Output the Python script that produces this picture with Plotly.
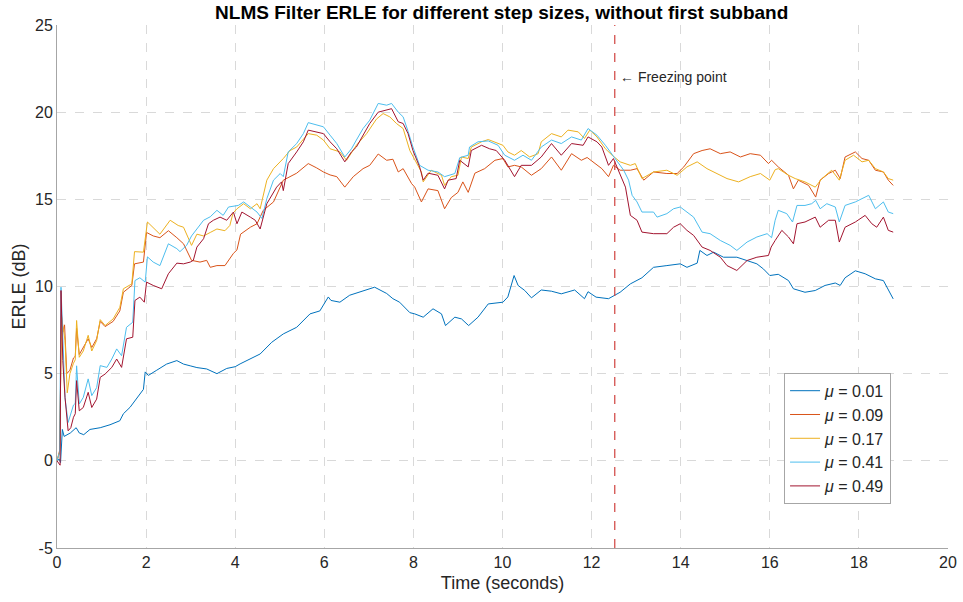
import plotly.graph_objects as go

# ---------------- data ----------------
t_001 = [0, 0.05, 0.08, 0.12, 0.16, 0.22, 0.3, 0.43, 0.5, 0.6, 0.74, 0.97, 1.19, 1.41, 1.49, 1.64, 1.75, 1.86, 1.94, 1.98,
         2.05, 2.24, 2.46, 2.69, 2.84, 2.99, 3.14, 3.36, 3.59, 3.81, 4.0, 4.11, 4.34, 4.56, 4.82, 5.08, 5.38, 5.68, 5.9, 6.09,
         6.15, 6.35, 6.57, 6.87, 7.13, 7.4, 7.54, 7.69, 7.92, 8.03, 8.22, 8.44, 8.63, 8.72, 8.93, 9.08, 9.24, 9.45, 9.68, 10.01,
         10.12, 10.26, 10.35, 10.5, 10.65, 10.87, 11.1, 11.32, 11.62, 11.84, 11.92, 12.1, 12.38, 12.64, 12.87, 13.13, 13.39, 13.69, 13.99, 14.14,
         14.37, 14.43, 14.59, 14.74, 14.96, 15.26, 15.49, 15.71, 15.86, 16.0, 16.19, 16.42, 16.53, 16.79, 17.02, 17.24, 17.47, 17.58, 17.69, 17.92,
         18.14, 18.37, 18.55, 18.66, 18.77]
v_001 = [0, 0.1, -0.1, 1.8, 1.4, 1.5, 1.6, 1.9, 1.6, 1.5, 1.8, 1.9, 2.07, 2.3, 2.7, 3.07, 3.45, 3.8, 4.1, 5.1,
         4.9, 5.2, 5.55, 5.75, 5.55, 5.45, 5.35, 5.27, 5.0, 5.3, 5.4, 5.56, 5.84, 6.13, 6.8, 7.28, 7.66, 8.43, 8.6, 9.4,
         9.2, 9.1, 9.5, 9.77, 9.96, 9.6, 9.3, 9.1, 8.5, 8.43, 8.24, 8.72, 8.43, 7.76, 8.24, 8.14, 7.76, 8.24, 9.0, 9.1,
         9.4, 10.63, 10.06, 9.77, 9.35, 9.8, 9.73, 9.58, 9.8, 9.3, 9.7, 9.39, 9.3, 9.67, 10.15, 10.5, 11.1, 11.2, 11.3, 11.1,
         11.34, 12.07, 11.78, 11.97, 11.68, 11.68, 11.49, 11.3, 11.0, 10.63, 10.7, 10.34, 9.87, 9.67, 9.77, 10.06, 10.2, 10.06, 10.5, 10.9,
         10.73, 10.44, 10.34, 9.77, 9.29]

t_009 = [0, 0.06, 0.1, 0.13, 0.17, 0.22, 0.29, 0.37, 0.41, 0.44, 0.5, 0.59, 0.7, 0.78, 0.89, 0.97, 1.08, 1.26, 1.41, 1.49,
         1.68, 1.74, 1.94, 2.01, 2.16, 2.31, 2.5, 2.69, 2.84, 3.02, 3.21, 3.36, 3.44, 3.59, 3.77, 3.96, 4.04, 4.12, 4.34, 4.49,
         4.63, 4.86, 5.08, 5.38, 5.64, 5.83, 5.98, 6.13, 6.28, 6.46, 6.65, 6.87, 7.02, 7.21, 7.4, 7.54, 7.66, 7.77, 7.96, 8.03,
         8.18, 8.33, 8.55, 8.7, 8.85, 9.0, 9.11, 9.23, 9.38, 9.6, 9.83, 10.01, 10.12, 10.27, 10.42, 10.65, 10.87, 11.1, 11.32, 11.55,
         11.77, 11.9, 12.04, 12.23, 12.38, 12.49, 12.64, 12.87, 13.02, 13.17, 13.39, 13.69, 13.92, 14.07, 14.29, 14.48, 14.66, 14.89, 15.11, 15.34,
         15.56, 15.79, 15.97, 16.04, 16.19, 16.42, 16.53, 16.64, 16.87, 17.03, 17.13, 17.32, 17.47, 17.58, 17.69, 17.92, 18.07, 18.22, 18.37, 18.55,
         18.66, 18.77]
v_009 = [0, 0.6, 8.4, 7.4, 7.8, 5.0, 5.2, 5.9, 6.0, 7.6, 6.1, 6.5, 7.0, 6.5, 7.0, 8.0, 7.7, 8.0, 8.6, 9.67,
         10.06, 11.3, 11.4, 13.1, 12.9, 12.8, 13.2, 12.8, 12.45, 11.5, 11.4, 11.5, 11.1, 11.2, 11.2, 11.9, 12.1, 13.0, 13.4, 13.6,
         14.37, 14.85, 16.1, 16.5, 17.05, 16.8, 16.57, 16.4, 16.3, 15.7, 16.3, 16.76, 16.95, 17.6, 17.24, 17.3, 16.57, 16.76, 15.9, 15.7,
         14.85, 15.6, 15.5, 14.46, 15.1, 15.4, 16.0, 15.4, 16.5, 16.76, 17.24, 17.34, 16.86, 16.95, 16.86, 16.38, 16.76, 17.43, 16.67, 17.62,
         17.24, 17.4, 17.15, 16.76, 16.3, 16.95, 16.67, 16.67, 16.76, 16.1, 16.57, 16.48, 16.48, 16.86, 17.62, 17.8, 17.9, 17.62, 17.72, 17.43,
         17.62, 17.53, 17.05, 17.24, 16.86, 16.38, 15.6, 16.1, 15.8, 15.13, 16.1, 16.48, 16.67, 16.19, 17.43, 17.72, 17.34, 17.24, 16.67, 16.57,
         16.1, 15.8]

t_017 = [0, 0.06, 0.1, 0.15, 0.18, 0.23, 0.29, 0.37, 0.41, 0.44, 0.5, 0.59, 0.7, 0.78, 0.89, 0.97, 1.08, 1.26, 1.41, 1.49,
         1.68, 1.74, 1.94, 2.03, 2.16, 2.31, 2.54, 2.72, 2.84, 3.02, 3.14, 3.29, 3.44, 3.59, 3.77, 3.88, 3.95, 4.04, 4.19, 4.34,
         4.49, 4.56, 4.71, 4.86, 5.08, 5.23, 5.38, 5.64, 5.83, 5.98, 6.13, 6.35, 6.5, 6.72, 6.95, 7.17, 7.32, 7.47, 7.62, 7.77,
         7.92, 8.03, 8.18, 8.22, 8.4, 8.63, 8.7, 8.85, 9.0, 9.08, 9.23, 9.3, 9.53, 9.68, 9.83, 10.01, 10.12, 10.27, 10.42, 10.61,
         10.8, 10.87, 11.1, 11.32, 11.47, 11.7, 11.84, 11.96, 12.12, 12.31, 12.46, 12.64, 12.87, 12.98, 13.13, 13.39, 13.69, 13.92, 14.14, 14.37,
         14.59, 14.81, 15.04, 15.3, 15.56, 15.79, 16.0, 16.12, 16.19, 16.42, 16.57, 16.79, 17.02, 17.17, 17.39, 17.56, 17.69, 17.88, 18.07, 18.22,
         18.37, 18.55, 18.66, 18.77]
v_017 = [0, 0.5, 8.3, 7.5, 6.9, 3.9, 5.0, 5.6, 5.8, 8.05, 5.94, 6.3, 7.2, 6.3, 6.9, 8.1, 7.76, 8.14, 8.8, 9.87,
         10.15, 12.0, 11.97, 13.7, 13.4, 13.0, 13.8, 13.5, 13.4, 12.36, 13.0, 12.9, 13.1, 13.3, 13.2, 13.5, 14.2, 14.46, 14.75, 14.46,
         14.75, 14.46, 16.1, 16.76, 17.34, 17.8, 18.0, 18.77, 18.68, 18.4, 17.9, 17.72, 17.24, 18.1, 18.77, 19.6, 19.92, 19.73, 19.35, 19.06,
         17.8, 17.24, 16.57, 16.0, 16.67, 16.38, 15.8, 16.3, 16.38, 17.43, 17.34, 18.0, 18.3, 18.43, 18.3, 18.1, 17.72, 17.53, 17.8, 17.43,
         17.62, 18.3, 18.77, 18.58, 18.97, 18.87, 18.49, 18.97, 18.58, 17.9, 17.53, 17.15, 16.95, 17.05, 16.19, 16.57, 16.67, 16.38, 16.86, 17.15,
         16.76, 16.48, 16.19, 16.0, 16.3, 16.48, 16.1, 16.7, 16.76, 16.38, 16.19, 16.0, 15.7, 16.19, 16.67, 16.1, 17.24, 17.53, 17.15, 17.24,
         16.76, 16.57, 16.19, 16.1]

t_041 = [0, 0.06, 0.09, 0.13, 0.18, 0.25, 0.37, 0.41, 0.44, 0.5, 0.59, 0.7, 0.78, 0.89, 0.97, 1.12, 1.23, 1.34, 1.45, 1.56,
         1.7, 1.75, 1.86, 1.98, 2.03, 2.16, 2.31, 2.5, 2.69, 2.76, 2.91, 3.02, 3.14, 3.29, 3.44, 3.59, 3.73, 3.85, 4.07, 4.19,
         4.34, 4.49, 4.6, 4.71, 4.86, 5.01, 5.08, 5.19, 5.38, 5.53, 5.64, 5.83, 5.98, 6.13, 6.28, 6.46, 6.61, 6.72, 6.87, 7.02,
         7.21, 7.4, 7.51, 7.66, 7.77, 7.88, 7.99, 8.14, 8.33, 8.55, 8.7, 8.93, 9.04, 9.23, 9.26, 9.45, 9.68, 9.9, 10.05, 10.27,
         10.46, 10.65, 10.87, 11.1, 11.32, 11.55, 11.77, 11.92, 12.12, 12.31, 12.42, 12.57, 12.72, 12.83, 12.91, 13.02, 13.13, 13.39, 13.47, 13.69,
         13.84, 13.99, 14.14, 14.29, 14.48, 14.66, 14.89, 15.11, 15.26, 15.49, 15.71, 15.94, 16.04, 16.12, 16.19, 16.38, 16.51, 16.61, 16.79, 16.94,
         17.03, 17.13, 17.28, 17.47, 17.56, 17.69, 17.92, 18.07, 18.22, 18.37, 18.55, 18.66, 18.77]
v_041 = [0, 0.5, 9.96, 6.9, 3.6, 2.2, 3.2, 3.3, 5.45, 3.26, 3.64, 4.7, 3.74, 4.2, 5.46, 5.36, 5.84, 6.42, 6.03, 7.66,
         7.95, 10.34, 10.5, 10.25, 11.7, 11.4, 11.2, 12.45, 12.17, 12.0, 12.36, 12.9, 13.3, 13.8, 14.0, 14.37, 14.08, 14.56, 14.65, 14.85,
         14.56, 14.27, 13.9, 15.04, 16.1, 16.48, 16.3, 17.72, 18.2, 18.77, 19.4, 19.25, 19.16, 18.68, 18.2, 17.43, 17.9, 18.4, 19.06, 19.54,
         20.5, 20.4, 20.5, 20.0, 19.73, 18.9, 18.0, 16.95, 16.67, 16.57, 16.3, 16.48, 17.39, 17.53, 18.0, 18.3, 18.35, 18.1, 17.53, 17.24,
         17.53, 17.24, 18.0, 18.4, 18.2, 18.58, 18.4, 19.06, 18.68, 18.1, 17.72, 17.24, 16.67, 16.1, 15.23, 14.85, 14.27, 14.27, 13.98, 14.18,
         14.46, 14.56, 14.27, 13.98, 13.12, 13.03, 12.64, 12.36, 12.07, 12.55, 12.84, 13.03, 12.8, 13.8, 14.37, 14.18, 13.7, 14.65, 14.65, 14.75,
         14.94, 14.46, 14.75, 14.56, 13.7, 14.65, 14.85, 15.04, 15.23, 14.46, 14.85, 14.27, 14.18]

t_049 = [0, 0.07, 0.09, 0.13, 0.18, 0.25, 0.31, 0.37, 0.41, 0.44, 0.5, 0.59, 0.7, 0.78, 0.89, 0.97, 1.08, 1.23, 1.34, 1.45,
         1.56, 1.7, 1.75, 1.86, 1.96, 2.01, 2.16, 2.35, 2.5, 2.69, 2.84, 2.99, 3.06, 3.14, 3.29, 3.4, 3.51, 3.66, 3.81, 3.96,
         4.04, 4.15, 4.34, 4.45, 4.56, 4.71, 4.93, 5.04, 5.08, 5.19, 5.38, 5.53, 5.64, 5.83, 5.98, 6.13, 6.28, 6.46, 6.61, 6.72,
         6.87, 7.02, 7.21, 7.4, 7.51, 7.66, 7.77, 7.88, 7.99, 8.14, 8.22, 8.33, 8.55, 8.7, 8.78, 8.96, 9.04, 9.23, 9.3, 9.53,
         9.71, 9.86, 10.05, 10.27, 10.42, 10.65, 10.87, 11.1, 11.32, 11.55, 11.81, 11.92, 12.12, 12.23, 12.38, 12.49, 12.64, 12.76, 12.87, 13.02,
         13.13, 13.39, 13.69, 13.84, 13.99, 14.14, 14.29, 14.48, 14.66, 14.89, 15.04, 15.26, 15.49, 15.71, 15.97, 16.03, 16.12, 16.27, 16.42, 16.53,
         16.61, 16.79, 17.02, 17.13, 17.32, 17.47, 17.56, 17.69, 17.92, 18.14, 18.29, 18.4, 18.55, 18.66, 18.77]
v_049 = [0, -0.25, 9.77, 5.75, 3.64, 1.72, 1.9, 2.5, 2.7, 4.6, 2.87, 3.06, 3.93, 3.06, 3.54, 4.79, 4.98, 5.36, 5.84, 5.36,
         7.0, 7.09, 9.2, 9.39, 9.1, 10.25, 10.06, 9.87, 10.73, 11.34, 11.3, 11.4, 11.5, 12.26, 12.74, 13.6, 13.8, 13.98, 13.8, 14.27,
         13.6, 14.27, 13.98, 13.8, 13.3, 14.75, 15.7, 16.0, 15.5, 17.05, 17.72, 18.3, 18.97, 18.87, 18.77, 18.3, 17.9, 17.15, 17.72, 18.0,
         18.68, 19.35, 20.0, 20.1, 20.2, 19.45, 19.35, 18.77, 17.8, 16.86, 16.1, 16.5, 16.38, 15.6, 16.1, 16.19, 17.24, 16.86, 17.8, 18.1,
         17.9, 17.8, 17.24, 16.3, 16.95, 16.95, 17.43, 18.2, 17.53, 18.2, 18.1, 18.58, 18.3, 18.0, 16.95, 17.34, 16.48, 15.7, 14.08, 13.8,
         13.12, 13.03, 13.03, 13.4, 13.6, 13.22, 12.93, 12.26, 12.07, 11.68, 11.2, 10.92, 11.49, 11.68, 11.78, 12.26, 12.64, 13.22, 12.84, 12.45,
         13.6, 13.7, 13.98, 13.4, 13.8, 13.8, 12.55, 13.4, 13.7, 14.08, 13.6, 13.4, 13.98, 13.22, 13.12]

series_labels = ["0.01", "0.09", "0.17", "0.41", "0.49"]
series_t = [t_001, t_009, t_017, t_041, t_049]
series_v = [v_001, v_009, v_017, v_041, v_049]
series_colors = ["#0072BD", "#D95319", "#EDB120", "#4DBEEE", "#A2142F"]

freeze_time = 12.52
x_ticks = [0, 2, 4, 6, 8, 10, 12, 14, 16, 18, 20]
y_ticks = [-5, 0, 5, 10, 15, 20, 25]
y_tick_text = ["-5", "0", "5", "10", "15", "20", "25"]

FONT = "Liberation Sans, Arial, Helvetica, sans-serif"

fig = go.Figure()
for lab, tt, vv, col in zip(series_labels, series_t, series_v, series_colors):
    assert len(tt) == len(vv), (lab, len(tt), len(vv))
    fig.add_trace(go.Scatter(x=tt, y=vv, mode="lines", name=f"<i>\u03bc</i> = {lab}",
                             line=dict(color=col, width=1)))

# freezing point marker
fig.add_shape(type="line", x0=freeze_time, x1=freeze_time, y0=-5, y1=25, xref="x", yref="y",
              line=dict(color="#D0413E", width=1.2, dash="dash"), layer="above")
fig.add_annotation(x=12.6, y=22.0, xref="x", yref="y", text="\u2190 Freezing point", showarrow=False,
                   xanchor="left", yanchor="middle", font=dict(family=FONT, size=14, color="#262626"))

axis_common = dict(showgrid=True, gridcolor="#d9d9d9", griddash="dash", gridwidth=1,
                   showline=True, linecolor="#a6a6a6", linewidth=1, zeroline=False,
                   tickfont=dict(family=FONT, size=16, color="#262626"), ticks="", automargin=False)

fig.update_xaxes(range=[0, 20], tickvals=x_ticks,
                 title=dict(text="Time (seconds)", font=dict(family=FONT, size=18, color="#262626"), standoff=6),
                 **axis_common)
fig.update_yaxes(range=[-5, 25], tickvals=y_ticks, ticktext=y_tick_text,
                 title=dict(text="ERLE (dB)", font=dict(family=FONT, size=18, color="#262626"), standoff=4),
                 **axis_common)

fig.update_layout(
    width=963, height=602,
    margin=dict(l=57, r=15, t=25, b=54),
    paper_bgcolor="white", plot_bgcolor="white",
    title=dict(text="<b>NLMS Filter ERLE for different step sizes, without first subband</b>",
               x=0.521, xanchor="center", y=0.980, yanchor="middle",
               font=dict(family=FONT, size=19, color="#000000")),
    legend=dict(x=0.816, y=0.335, xanchor="left", yanchor="top", bgcolor="white",
                bordercolor="#a6a6a6", borderwidth=1, font=dict(family=FONT, size=16, color="#262626"),
                itemwidth=30, tracegroupgap=0),
    showlegend=True,
)

fig.write_html("out.html")
